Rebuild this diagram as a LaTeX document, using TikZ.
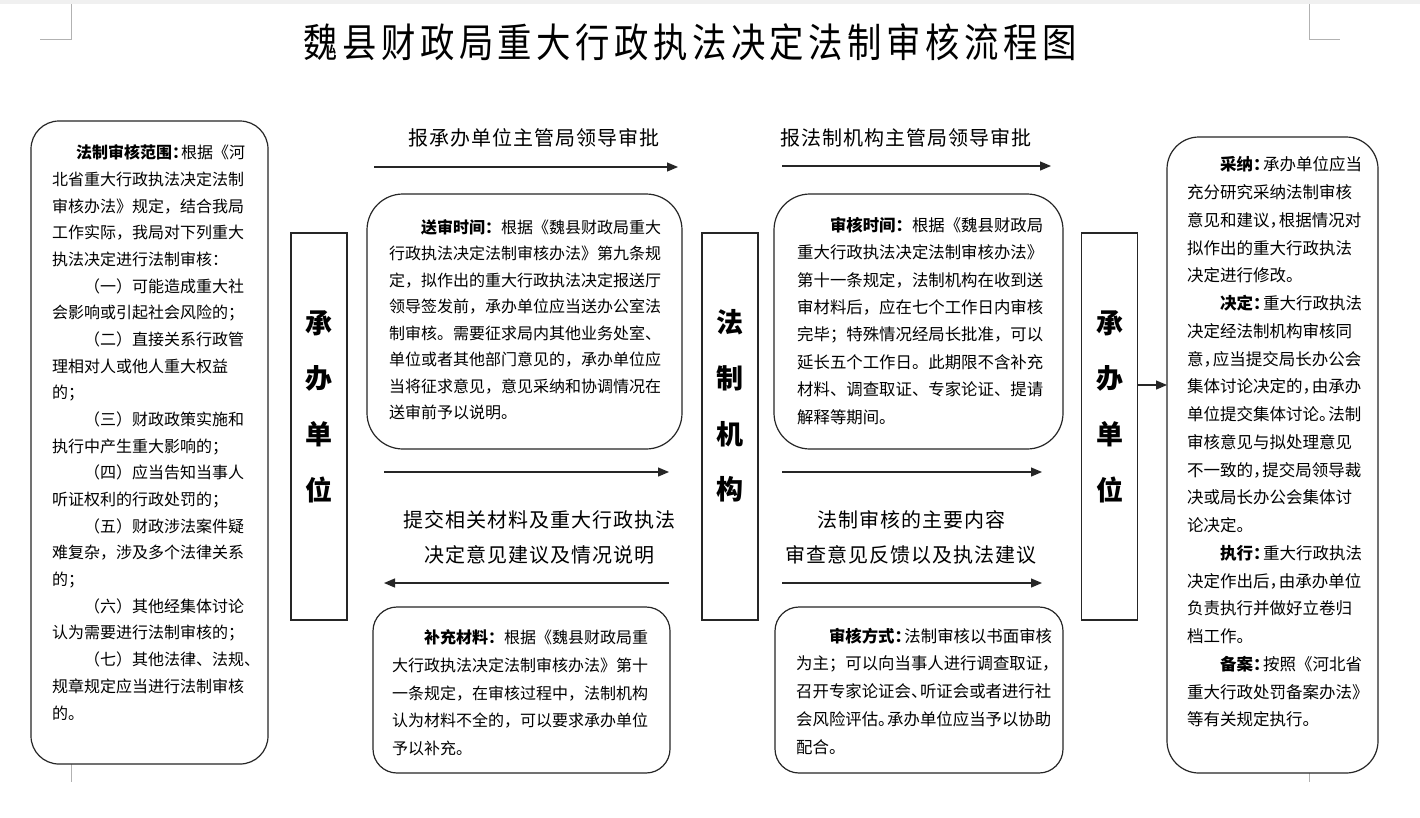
\documentclass[tikz,border=0pt]{standalone}
\usepackage{fontspec}
\usepackage{graphicx}
\setmainfont{Noto Sans CJK SC}
\usetikzlibrary{arrows.meta}
\newcommand\hw[1]{\makebox[0.55em][l]{#1}}
\newcommand\bl[2]{\makebox[#1em][l]{\bfseries #2}}
\tikzset{
  frame/.style={draw=black!85, line width=1.2pt, fill=white, inner sep=0pt, outer sep=0pt},
  vbox/.style={frame, minimum width=56pt, minimum height=387pt},
  conn/.style={line width=1.2pt, draw=black!85, -{Triangle[length=11pt,width=9pt]}},
  lbl/.style={inner sep=0pt, align=center, font=\fontsize{20}{35}\selectfont\addfontfeature{LetterSpace=5}},
  vlbl/.style={inner sep=0pt, align=center, font=\fontsize{27}{55.7}\selectfont\bfseries},
  body/.style 2 args={anchor=north west, inner sep=0pt, align=left, font=\fontsize{#1}{#2}\selectfont},
  cropmark/.style={draw=black!30, line width=0.8pt}
}
\begin{document}
\begin{tikzpicture}[x=1pt, y=-1pt]
\useasboundingbox (0,0) rectangle (1420,817);
\fill[white] (0,0) rectangle (1420,817);
\fill[black!6] (0,0) rectangle (1420,4);
% crop marks
\draw[cropmark] (71,4) -- (71,39) -- (40,39);
\draw[cropmark] (1309,4) -- (1309,39) -- (1340,39);
\draw[cropmark] (71,750) -- (71,782);
\draw[cropmark] (1309,750) -- (1309,782);
% title
\node[inner sep=0pt, font=\fontsize{40}{40}\selectfont] (title) at (690,42)
  {\scalebox{0.86}[1]{\addfontfeature{LetterSpace=13}魏县财政局重大行政执法决定法制审核流程图}};
% boxes
\node[frame, rounded corners=28pt, minimum width=237pt, minimum height=643pt] (rangebox) at (149.5,442.5) {};
\node[vbox] (unitL) at (319,426.5) {};
\node[vbox] (legal) at (730,426.5) {};
\node[vbox] (unitR) at (1109.5,426.5) {};
\node[frame, rounded corners=36pt, minimum width=315pt, minimum height=255pt] (sendbox) at (524.5,321.5) {};
\node[frame, rounded corners=36pt, minimum width=289pt, minimum height=255pt] (timebox) at (918.5,321.5) {};
\node[frame, rounded corners=24pt, minimum width=297pt, minimum height=166pt] (suppbox) at (521.5,690) {};
\node[frame, rounded corners=24pt, minimum width=288pt, minimum height=166pt] (waybox) at (919,690) {};
\node[frame, rounded corners=32pt, minimum width=211pt, minimum height=636pt] (adoptbox) at (1272.5,455) {};
% vertical labels
\node[vlbl] (unitLtxt) at (319,406.5) {承\\办\\单\\位};
\node[vlbl] (legaltxt) at (730,406) {法\\制\\机\\构};
\node[vlbl] (unitRtxt) at (1109.5,406.5) {承\\办\\单\\位};
% arrow labels
\node[lbl] (l1) at (533.5,138) {报承办单位主管局领导审批};
\node[lbl] (l2) at (905.5,138) {报法制机构主管局领导审批};
\node[lbl] (l3) at (539.5,537.5) {提交相关材料及重大行政执法\\决定意见建议及情况说明};
\node[lbl] (l4) at (911,537.5) {法制审核的主要内容\\审查意见反馈以及执法建议};
% arrows
\coordinate (a1s) at (374,167); \coordinate (a1e) at (678,167);
\coordinate (a2s) at (384,472); \coordinate (a2e) at (669,472);
\coordinate (a3s) at (669,583); \coordinate (a3e) at (384,583);
\coordinate (b1s) at (782,166); \coordinate (b1e) at (1051,166);
\coordinate (b2s) at (782,472); \coordinate (b2e) at (1042,472);
\coordinate (b3s) at (782,583); \coordinate (b3e) at (1042,583);
\coordinate (cy) at (0,385);
\draw[conn] (a1s) -- (a1e);
\draw[conn] (a2s) -- (a2e);
\draw[conn] (a3s) -- (a3e);
\draw[conn] (b1s) -- (b1e);
\draw[conn] (b2s) -- (b2e);
\draw[conn] (b3s) -- (b3e);
\draw[conn] (unitR.east |- cy) -- (adoptbox.west |- cy);
% texts
\node[body={16}{26.67}] (rangetxt) at (52,144.8) {\hspace*{1.5em}\bl{6.55}{法制审核范围：}根据《河\\
北省重大行政执法决定法制\\
审核办法》规定，结合我局\\
工作实际，我局对下列重大\\
执法决定进行法制审核：\\
\hspace*{2em}（一）可能造成重大社\\
会影响或引起社会风险的；\\
\hspace*{2em}（二）直接关系行政管\\
理相对人或他人重大权益\\
的；\\
\hspace*{2em}（三）财政政策实施和\\
执行中产生重大影响的；\\
\hspace*{2em}（四）应当告知当事人\\
听证权利的行政处罚的；\\
\hspace*{2em}（五）财政涉法案件疑\\
难复杂，涉及多个法律关系\\
的；\\
\hspace*{2em}（六）其他经集体讨论\\
认为需要进行法制审核的；\\
\hspace*{2em}（七）其他法律、法规、\\
规章规定应当进行法制审核\\
的。};
\node[body={16}{26.5}] (sendtxt) at (389,219.2) {\hspace*{2em}\bl{5}{送审时间：}根据《魏县财政局重大\\
行政执法决定法制审核办法》第九条规\\
定，拟作出的重大行政执法决定报送厅\\
领导签发前，承办单位应当送办公室法\\
制审核。需要征求局内其他业务处室、\\
单位或者其他部门意见的，承办单位应\\
当将征求意见，意见采纳和协调情况在\\
送审前予以说明。};
\node[body={16.4}{27.4}] (timetxt) at (797,216.8) {\hspace*{2em}\bl{5}{审核时间：}根据《魏县财政局\\
重大行政执法决定法制审核办法》\\
第十一条规定，法制机构在收到送\\
审材料后，应在七个工作日内审核\\
完毕；特殊情况经局长批准，可以\\
延长五个工作日。此期限不含补充\\
材料、调查取证、专家论证、提请\\
解释等期间。};
\node[body={16}{27.7}] (supptxt) at (392,629.8) {\hspace*{2em}\bl{5}{补充材料：}根据《魏县财政局重\\
大行政执法决定法制审核办法》第十\\
一条规定，在审核过程中，法制机构\\
认为材料不全的，可以要求承办单位\\
予以补充。};
\node[body={16.4}{27.9}] (waytxt) at (796,627.5) {\hspace*{2em}\bl{4.6}{审核方式：}法制审核以书面审核\\
为主；可以向当事人进行调查取证，\\
召开专家论证会\hw{、}听证会或者进行社\\
会风险评估\hw{。}承办单位应当予以协助\\
配合。};
\node[body={16.5}{27.75}] (adopttxt) at (1187,156.5) {\hspace*{2em}\bl{2.6}{采纳：}承办单位应当\\
充分研究采纳法制审核\\
意见和建议\hw{，}根据情况对\\
拟作出的重大行政执法\\
决定进行修改。\\
\hspace*{2em}\bl{2.6}{决定：}重大行政执法\\
决定经法制机构审核同\\
意\hw{，}应当提交局长办公会\\
集体讨论决定的\hw{，}由承办\\
单位提交集体讨论\hw{。}法制\\
审核意见与拟处理意见\\
不一致的\hw{，}提交局领导裁\\
决或局长办公会集体讨\\
论决定。\\
\hspace*{2em}\bl{2.6}{执行：}重大行政执法\\
决定作出后\hw{，}由承办单位\\
负责执行并做好立卷归\\
档工作。\\
\hspace*{2em}\bl{2.6}{备案：}按照《河北省\\
重大行政处罚备案办法》\\
等有关规定执行。};
\end{tikzpicture}
\end{document}
